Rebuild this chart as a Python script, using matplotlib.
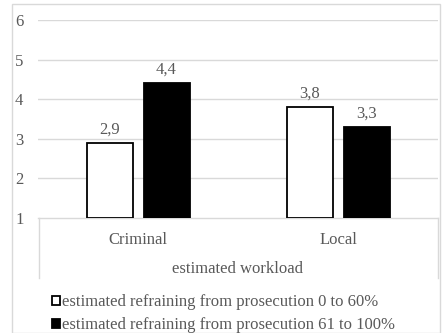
import matplotlib
matplotlib.use("Agg")
import matplotlib.pyplot as plt
from matplotlib.patches import Rectangle
from matplotlib.lines import Line2D

categories = ["Criminal", "Local"]
series_names = [
    "estimated refraining from prosecution 0 to 60%",
    "estimated refraining from prosecution 61 to 100%",
]
low_refrain = [2.9, 3.8]
high_refrain = [4.4, 3.3]
y_ticks = [1, 2, 3, 4, 5, 6]
axis_title = "estimated workload"

plt.rcParams["font.family"] = ["Liberation Serif", "DejaVu Serif"]
TEXT = "#595959"
GRID = "#d9d9d9"
FS = 12

W, H = 442, 333
fig = plt.figure(figsize=(W / 100, H / 100), dpi=100)

def fx(px):
    return px / W

def fy(py):
    return 1 - py / H

# chart frame
fig.patches.append(Rectangle((fx(12), fy(333)), fx(440) - fx(12), fy(4) - fy(333),
                             transform=fig.transFigure, fill=False,
                             edgecolor=GRID, linewidth=1.0))

ax = fig.add_axes([fx(38), fy(218), fx(438) - fx(38), fy(20) - fy(218)])
ax.set_xlim(0, 2)
ax.set_ylim(1, 6)

centers = [0.5, 1.5]
bw = 0.23
off = 0.1425
b1 = ax.bar([c - off for c in centers], [v - 1 for v in low_refrain], bottom=1,
            width=bw, color="white", edgecolor="black", linewidth=1.3, zorder=3,
            label=series_names[0])
b2 = ax.bar([c + off for c in centers], [v - 1 for v in high_refrain], bottom=1,
            width=bw, color="black", edgecolor="black", linewidth=1.3, zorder=3,
            label=series_names[1])

for bars, vals in ((b1, low_refrain), (b2, high_refrain)):
    for rect, v in zip(bars, vals):
        ax.annotate(f"{v:.1f}".replace(".", ","),
                    (rect.get_x() + rect.get_width() / 2, v),
                    xytext=(0, 4), textcoords="offset points",
                    ha="center", va="bottom", fontsize=FS, color=TEXT)

for t in y_ticks[1:]:
    ax.axhline(t, color=GRID, linewidth=1.0, zorder=1)

for s in ax.spines.values():
    s.set_visible(False)
ax.spines["bottom"].set_visible(True)
ax.spines["bottom"].set_color(GRID)
ax.spines["bottom"].set_linewidth(1.0)

ax.set_yticks(y_ticks)
ax.set_yticklabels([str(t) for t in y_ticks], fontsize=FS, color=TEXT)
ax.tick_params(axis="y", length=0, pad=10.5)

ax.set_xticks(centers)
ax.set_xticklabels(categories, fontsize=FS, color=TEXT)
ax.tick_params(axis="x", length=0, pad=10)

# multi-level category box sides
for px in (38.5, 438):
    fig.add_artist(Line2D([fx(px), fx(px)], [fy(218), fy(278)],
                          transform=fig.transFigure, color=GRID, linewidth=1.0))

fig.text(fx(238), fy(269), axis_title, ha="center", va="center",
         fontsize=FS, color=TEXT)

leg = fig.legend(handles=[b1, b2], loc="upper left",
                 bbox_to_anchor=(fx(52), fy(294)), frameon=False,
                 fontsize=FS, handlelength=0.5, handleheight=0.45,
                 handletextpad=0.12, labelspacing=0.42, borderpad=0,
                 borderaxespad=0)
for txt in leg.get_texts():
    txt.set_color(TEXT)

fig.savefig("out.png", dpi=100)
